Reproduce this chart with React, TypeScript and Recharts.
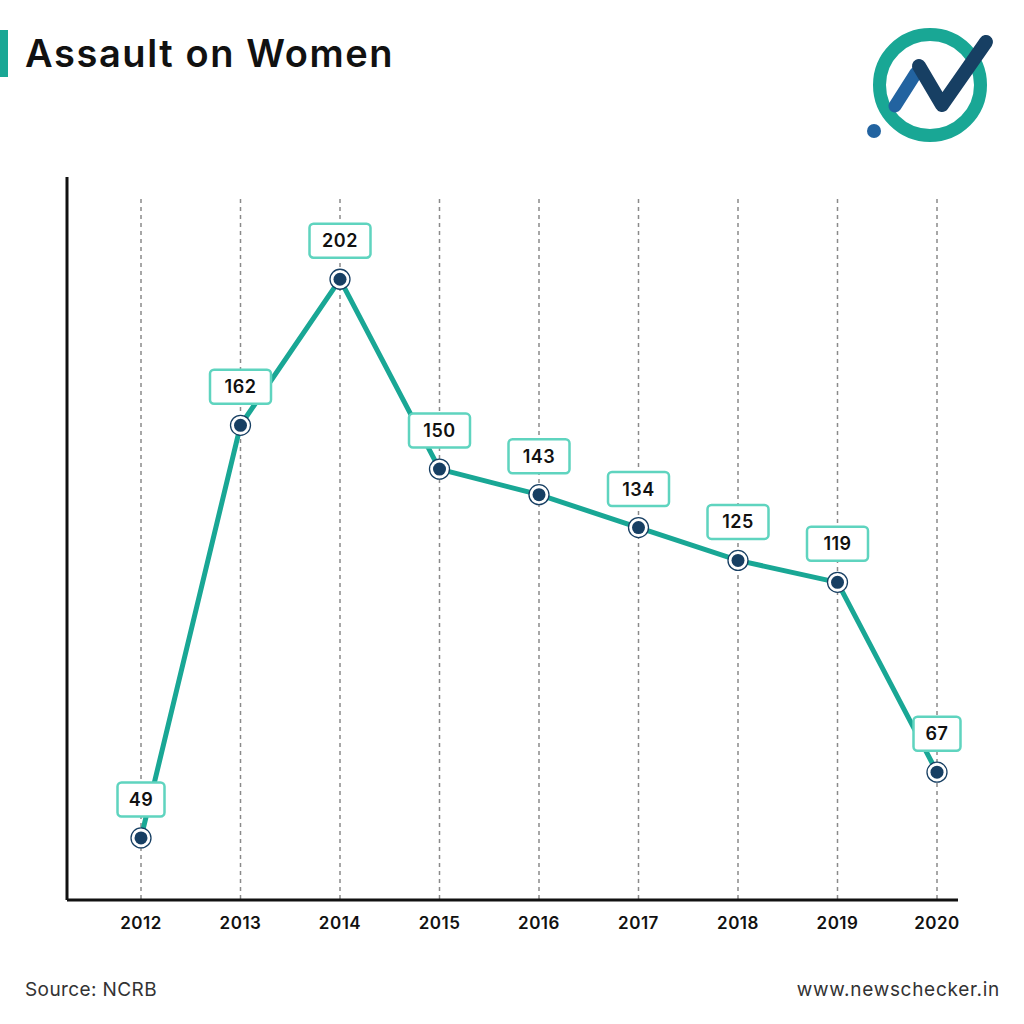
import React from 'react';
import { LineChart, Line, XAxis, YAxis, ReferenceLine, LabelList } from 'recharts';

const years = ['2012', '2013', '2014', '2015', '2016', '2017', '2018', '2019', '2020'];
const cases = [49, 162, 202, 150, 143, 134, 125, 119, 67];

const data = years.map((year, i) => ({ year, cases: cases[i] }));

const FONT = "Inter, 'Noto Sans', sans-serif";
const TEAL = '#19a795';
const LABEL_TEAL = '#5fd4bf';
const NAVY = '#173f63';
const Y_MIN = 32;
const Y_MAX = 230;
const GRID_TOP = 224;

const renderDot = (props: any) => {
  const { cx, cy, index } = props;
  return (
    <g key={`dot-${index}`}>
      <circle cx={cx} cy={cy} r={10} fill="#fff" stroke={NAVY} strokeWidth={1.3} />
      <circle cx={cx} cy={cy} r={6.5} fill={NAVY} />
    </g>
  );
};

const renderLabel = (props: any) => {
  const { x, y, value, index } = props;
  const text = String(value);
  const w = 19 + 14 * text.length;
  const h = 34;
  const cy = y - 38.5;
  return (
    <g key={`lbl-${index}`}>
      <rect x={x - w / 2} y={cy - h / 2} width={w} height={h} rx={4} fill="#fff" stroke={LABEL_TEAL} strokeWidth={2.5} />
      <text x={x} y={cy} textAnchor="middle" dominantBaseline="central" fontFamily={FONT} fontWeight={600} fontSize={18} letterSpacing={0.5} fill="#111">
        {text}
      </text>
    </g>
  );
};

const Logo = () => (
  <g>
    <circle cx={930} cy={85} r={50.5} fill="none" stroke={TEAL} strokeWidth={13} />
    <line x1={895} y1={106} x2={916} y2={73} stroke="#2263a0" strokeWidth={13} strokeLinecap="round" />
    <polyline points="919,66 942,105 986,42" fill="none" stroke={NAVY} strokeWidth={14} strokeLinecap="round" strokeLinejoin="round" />
    <circle cx={874} cy={131} r={7} fill="#2263a0" />
  </g>
);

export default function App() {
  return (
    <div style={{ position: 'absolute', left: 0, top: 0, width: 1024, height: 1024, background: '#fff', fontFamily: FONT }}>
      <svg width={1024} height={1024} style={{ position: 'absolute', left: 0, top: 0 }}>
        <rect x={0} y={30} width={8} height={47} fill={TEAL} />
        <text x={25} y={67} fontFamily={FONT} fontWeight={600} fontSize={38} letterSpacing={1.6} fill="#111">
          Assault on Women
        </text>
        <Logo />
        <text x={25} y={996} fontFamily={FONT} fontSize={19} letterSpacing={0.4} fill="#333">
          Source: NCRB
        </text>
        <text x={1000} y={996} textAnchor="end" fontFamily={FONT} fontSize={19} letterSpacing={0.7} fill="#333">
          www.newschecker.in
        </text>
      </svg>
      <div style={{ position: 'absolute', left: 0, top: 0 }}>
        <LineChart width={1024} height={1024} data={data} margin={{ top: 177, right: 66, bottom: 94, left: 66 }}>
          <XAxis
            dataKey="year"
            height={30}
            padding={{ left: 74, right: 21 }}
            axisLine={{ stroke: '#111', strokeWidth: 3 }}
            tickLine={false}
            tickMargin={11}
            tick={{ fill: '#111', fontSize: 17, fontWeight: 600, fontFamily: FONT, letterSpacing: 0.5 }}
          />
          <YAxis
            width={1}
            domain={[Y_MIN, Y_MAX]}
            allowDataOverflow
            tick={false}
            tickLine={false}
            axisLine={{ stroke: '#111', strokeWidth: 3 }}
          />
          {years.map((year) => (
            <ReferenceLine
              key={year}
              segment={[{ x: year, y: GRID_TOP }, { x: year, y: Y_MIN }]}
              stroke="#8a8a8a"
              strokeWidth={1.5}
              strokeDasharray="4 4"
            />
          ))}
          <Line
            type="linear"
            dataKey="cases"
            stroke={TEAL}
            strokeWidth={5}
            dot={renderDot}
            activeDot={false}
            isAnimationActive={false}
          >
            <LabelList dataKey="cases" content={renderLabel} />
          </Line>
        </LineChart>
      </div>
    </div>
  );
}
